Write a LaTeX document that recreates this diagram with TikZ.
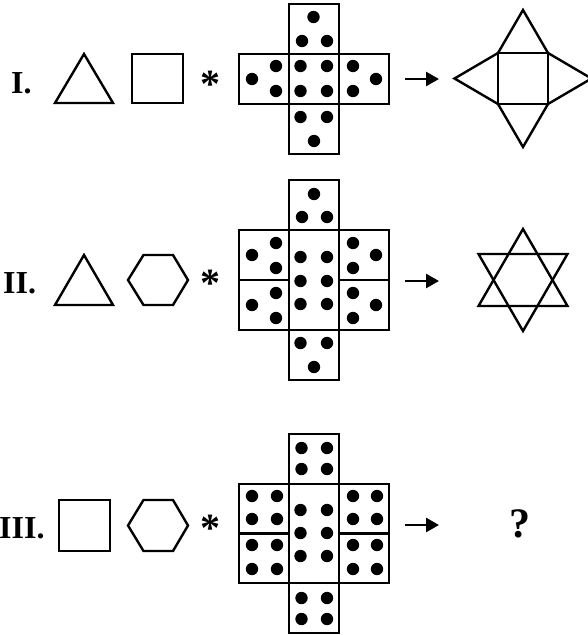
\documentclass[tikz,border=0pt]{standalone}
\usepackage{fontspec}
\setmainfont{Liberation Serif}
\usetikzlibrary{arrows.meta}
\newcommand\pdot[2]{\fill (#1,#2) circle (6.2);}
\begin{document}
\begin{tikzpicture}[x=1pt,y=-1pt,
  netline/.style={line width=2.7pt, line join=miter},
  shp/.style={line width=2.4pt, line join=miter},
  lbl/.style={font=\bfseries\fontsize{32}{32}\selectfont, inner sep=0pt},
  star/.style={font=\bfseries\fontsize{40}{40}\selectfont, inner sep=0pt},
  qmark/.style={font=\bfseries\fontsize{42}{42}\selectfont, inner sep=0pt},
  arr/.style={line width=2.6pt, -{Triangle[length=13pt,width=14pt]}}]
\useasboundingbox (0,0) rectangle (588,635);

% ================= Row I =================
\node[lbl, anchor=base west] (l1) at (11,93) {I.};
\draw[shp] (55,103) -- (84,54) -- (113,103) -- cycle;
\draw[shp] (132,54) rectangle (183,103);
\node[star] (s1) at (210,84) {*};
% net
\draw[netline] (289,4) rectangle (339,154);
\draw[netline] (239,54) rectangle (389,104);
% top face 3
\pdot{313.5}{17}\pdot{302}{41}\pdot{327}{41}
% left face 3
\pdot{252}{79}\pdot{276}{66}\pdot{276}{91}
% centre face 4
\pdot{300.5}{66}\pdot{327}{66}\pdot{300.5}{91}\pdot{327}{91}
% right face 3
\pdot{353}{66}\pdot{353}{91}\pdot{376}{79}
% bottom face 3
\pdot{300.5}{117}\pdot{327}{117}\pdot{314}{141}
\coordinate (a1s) at (405,79);
\coordinate (a1e) at (439,79);
\draw[arr] (a1s) -- (a1e);
\draw[shp] (498,53) rectangle (548,104);
\draw[shp] (498,53) -- (523,10) -- (548,53) -- (591.5,78.5) -- (548,104)
  -- (523,147) -- (498,104) -- (454.5,78.5) -- cycle;

% ================= Row II =================
\node[lbl, anchor=base west] (l2) at (3,293) {II.};
\draw[shp] (55,305) -- (84,255) -- (113,305) -- cycle;
\draw[shp] (128,280) -- (143.5,255) -- (173,255) -- (188,280) -- (173,305) -- (143.5,305) -- cycle;
\node[star] (s2) at (210,283) {*};
% net
\draw[netline] (289,180) rectangle (339,380);
\draw[netline] (239,230) rectangle (389,330);
\draw[netline] (239,280) -- (289,280);
\draw[netline] (339,280) -- (389,280);
% top
\pdot{314}{194}\pdot{302}{217}\pdot{327}{217}
% left upper / lower
\pdot{252}{255}\pdot{276}{243}\pdot{276}{268}
\pdot{252}{305}\pdot{276}{293}\pdot{276}{318}
% centre 6
\pdot{300.5}{257}\pdot{327}{257}\pdot{300.5}{281}\pdot{327}{281}\pdot{300.5}{304}\pdot{327}{304}
% right upper / lower
\pdot{353}{243}\pdot{353}{268}\pdot{376}{255}
\pdot{353}{293}\pdot{353}{318}\pdot{376}{305}
% bottom
\pdot{300.5}{343}\pdot{327}{343}\pdot{314}{367}
\coordinate (a2s) at (405,281);
\coordinate (a2e) at (439,281);
\draw[arr] (a2s) -- (a2e);
\draw[shp] (523,229) -- (567.5,306) -- (478.5,306) -- cycle;
\draw[shp] (523,331) -- (567.5,254) -- (478.5,254) -- cycle;

% ================= Row III =================
\node[lbl, anchor=base west] (l3) at (-1,538) {III.};
\draw[shp] (59,500) rectangle (110,551);
\draw[shp] (128,525.5) -- (143.5,500) -- (173,500) -- (188,525.5) -- (173,551) -- (143.5,551) -- cycle;
\node[star] (s3) at (210,528) {*};
% net
\draw[netline] (289,434) rectangle (339,633);
\draw[netline] (239,484) rectangle (389,583);
\draw[netline] (239,533.5) -- (289,533.5);
\draw[netline] (339,533.5) -- (389,533.5);
% top 4
\pdot{301.5}{448}\pdot{327}{448}\pdot{301.5}{469}\pdot{327}{469}
% left 4 + 4
\pdot{252}{496}\pdot{277}{496}\pdot{252}{519}\pdot{277}{519}
\pdot{252}{545}\pdot{277}{545}\pdot{252}{569}\pdot{277}{569}
% centre 6
\pdot{300.5}{510}\pdot{327}{510}\pdot{300.5}{533}\pdot{327}{533}\pdot{300.5}{556}\pdot{327}{556}
% right 4 + 4
\pdot{353}{496}\pdot{377}{496}\pdot{353}{519}\pdot{377}{519}
\pdot{353}{545}\pdot{377}{545}\pdot{353}{569}\pdot{377}{569}
% bottom 4
\pdot{301.5}{598}\pdot{327}{598}\pdot{301.5}{619}\pdot{327}{619}
\coordinate (a3s) at (405,525);
\coordinate (a3e) at (439,525);
\draw[arr] (a3s) -- (a3e);
\node[qmark] (q) at (520,524) {?};
\end{tikzpicture}
\end{document}
